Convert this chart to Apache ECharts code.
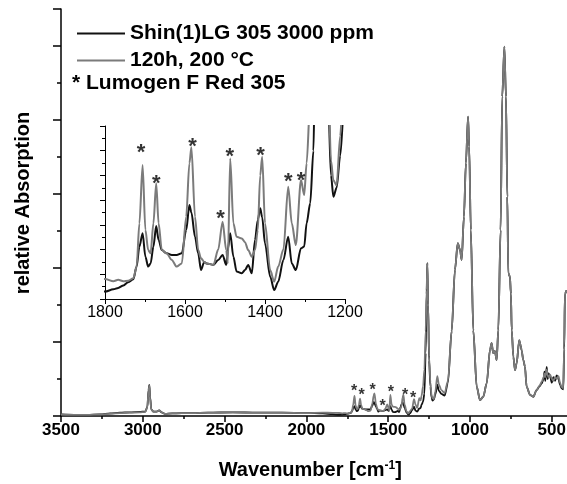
<!DOCTYPE html>
<html><head><meta charset="utf-8">
<script src="https://cdn.jsdelivr.net/npm/echarts@6/dist/echarts.min.js"></script>
<style>html,body{margin:0;padding:0;background:#fff}#c{width:567px;height:484px}</style>
</head><body><div id="c"></div>
<script>
// ---- data ----
const wavenumber = [3500,3420,3340,3260,3200,3140,3080,3020,2985,2972,2965,2960,2955,2948,2935,2915,2900,2885,2865,2820,2700,2600,2450,2300,2150,2000,1900,1840,
1800,1779,1767,1754,1742,1729,1721,1714,1706,1699,1692,1686,1679,1672,1666,1658,1646,1633,1621,1608,1597,1589,1584,1575,1567,1560,1552,1546,1529,1517,1506,1497,1493,1487,1479,1471,1458,1450,1442,1433,1425,1418,1412,1407,1400,1387,1377,1367,1354,1342,1333,1323,1310,1302,1296,1287,1279,1271,1265,1261,1256,1250,1242,1235,1229,1221,1212,1200,1190,1175,1155,1135,1112,1092,1075,1061,1051,1037,1025,1012,1005,995,980,959,939,919,898,878,868,858,848,837,827,813,803,790,780,772,766,756,750,745,735,725,715,699,690,685,674,664,654,633,613,593,575,562,550,545,540,531,525,520,510,500,490,480,470,459,450,440,430,424,420,410];
const absOriginal = [0.04,0.03,0.03,0.04,0.07,0.09,0.10,0.11,0.12,0.25,0.70,0.84,0.50,0.18,0.12,0.12,0.15,0.10,0.06,0.07,0.08,0.09,0.10,0.09,0.09,0.08,0.07,0.05,
0.030,0.039,0.045,0.055,0.068,0.080,0.131,0.212,0.266,0.171,0.131,0.144,0.212,0.295,0.239,0.198,0.185,0.178,0.178,0.185,0.279,0.380,0.350,0.252,0.185,0.117,0.150,0.144,0.138,0.158,0.178,0.138,0.200,0.266,0.171,0.111,0.104,0.117,0.138,0.104,0.239,0.320,0.367,0.330,0.225,0.090,0.036,0.070,0.158,0.252,0.144,0.117,0.205,0.212,0.306,0.387,0.60,1.70,3.30,4.13,3.00,1.50,0.80,0.50,0.414,0.45,0.58,0.85,0.68,0.60,0.55,0.90,2.30,3.95,4.67,4.49,4.22,5.39,6.84,8.09,7.28,5.03,2.32,0.79,0.43,0.52,0.88,1.78,1.97,1.70,1.75,1.51,2.32,5.03,8.63,9.98,8.63,5.93,3.86,3.77,3.30,2.32,1.60,1.24,1.42,2.05,1.90,1.78,1.51,1.33,0.79,0.57,0.52,0.70,0.80,0.88,1.00,1.20,0.95,1.33,1.00,1.15,1.06,0.90,1.05,0.95,1.10,1.00,0.85,0.75,0.72,1.80,3.30,3.40];
const absAged = [0.04,0.03,0.03,0.04,0.06,0.08,0.09,0.10,0.11,0.24,0.68,0.82,0.48,0.17,0.12,0.12,0.15,0.10,0.06,0.07,0.08,0.09,0.10,0.09,0.09,0.08,0.09,0.085,
0.081,0.072,0.078,0.072,0.074,0.084,0.131,0.306,0.542,0.279,0.198,0.185,0.306,0.468,0.306,0.198,0.185,0.158,0.131,0.144,0.333,0.549,0.614,0.333,0.198,0.165,0.150,0.144,0.138,0.200,0.313,0.198,0.144,0.569,0.306,0.252,0.245,0.230,0.198,0.171,0.198,0.279,0.500,0.576,0.306,0.117,0.070,0.131,0.200,0.454,0.306,0.218,0.481,0.421,0.549,0.80,1.25,2.30,3.40,4.13,3.00,1.60,0.90,0.56,0.48,0.46,0.66,1.08,0.85,0.70,0.62,0.95,2.30,3.95,4.67,4.49,4.22,5.39,6.84,8.09,7.28,5.03,2.32,0.79,0.43,0.52,0.88,1.78,1.97,1.70,1.75,1.51,2.32,5.03,8.63,9.98,8.63,5.93,3.86,3.77,3.30,2.32,1.60,1.24,1.42,2.05,1.90,1.78,1.51,1.33,0.79,0.57,0.52,0.70,0.82,0.92,1.05,1.15,1.05,1.25,1.10,1.05,1.12,1.00,0.95,1.05,1.00,1.08,0.90,0.78,0.75,1.90,3.30,3.40];
const seriesNames = ['Shin(1)LG 305 3000 ppm', '120h, 200 °C'];
const markerNote = '* Lumogen F Red 305';
const mainStarWavenumber = [1709,1662,1595,1534,1483,1397,1347];
const mainStarLevel = [0.78,0.66,0.79,0.36,0.75,0.66,0.59];
const insetStarWavenumber = [1710,1672,1581,1511,1488,1411,1342,1310];
const insetStarLevel = [0.616,0.488,0.64,0.347,0.60,0.603,0.499,0.503];
const xTitle = 'Wavenumber [cm{sup|-1}]';
const yTitle = 'relative Absorption';

// ---- chart ----
const FONT = '"Liberation Sans", Arial, Helvetica, sans-serif';
const pairs = (xs, ys) => xs.map((x, i) => [x, ys[i]]);
const chart = echarts.init(document.getElementById('c'), null, {renderer: 'canvas'});
const blk = '#111111', gry = '#7b7b7b';
const axisCommon = (w) => ({
  axisLine: {show: true, onZero: false, lineStyle: {color: '#000', width: w}},
  splitLine: {show: false}, minorSplitLine: {show: false}
});
const starLabel = (size) => ({show: true, formatter: '*', position: 'inside', offset: [0, Math.round(size * 0.28)],
  fontSize: size, fontWeight: 'bold', color: '#000', fontFamily: FONT});
const lineSeries = (i, xi, yi, data, color, width, z) => ({
  name: seriesNames[i], type: 'line', xAxisIndex: xi, yAxisIndex: yi, data: data,
  showSymbol: false, symbol: 'none', silent: true, z: z, clip: true, smooth: 0.3, smoothMonotone: 'x',
  color: color, lineStyle: {color: color, width: width}
});

chart.setOption({
  animation: false,
  textStyle: {fontFamily: FONT},
  grid: [
    {left: 61, top: 9, width: 572.6, height: 407, containLabel: false, outerBoundsMode: 'none'},
    {left: 105, top: 126, width: 240, height: 173, containLabel: false, outerBoundsMode: 'none'}
  ],
  legend: {
    data: seriesNames, left: 72, top: 18, orient: 'vertical', icon: 'rect',
    itemWidth: 48, itemHeight: 2, itemGap: 6, selectedMode: false,
    textStyle: {fontSize: 21, fontWeight: 'bold', color: '#000', lineHeight: 21, fontFamily: FONT}
  },
  graphic: [{type: 'text', left: 72, top: 73,
    style: {text: markerNote, font: 'bold 21px ' + FONT, fill: '#000'}}],
  xAxis: [
    Object.assign({gridIndex: 0, type: 'value', min: 0, max: 3500, interval: 500, inverse: true,
      axisTick: {show: true, length: 6, lineStyle: {color: '#000', width: 1.5}},
      minorTick: {show: true, splitNumber: 2, length: 3, lineStyle: {color: '#000', width: 1.5}},
      axisLabel: {fontSize: 17, fontWeight: 'bold', color: '#000', margin: 6, fontFamily: FONT,
        formatter: v => (v === 0 ? '' : String(v))},
      name: xTitle, nameLocation: 'middle', nameGap: 44,
      nameTextStyle: {fontSize: 20, fontWeight: 'bold', color: '#000', fontFamily: FONT, padding: [0, 74, 0, 0],
        rich: {sup: {fontSize: 12, fontWeight: 'bold', color: '#000', fontFamily: FONT, verticalAlign: 'top', padding: [0, 0, 6, 0]}}}
    }, axisCommon(1.5)),
    Object.assign({gridIndex: 1, type: 'value', min: 1200, max: 1800, interval: 200, inverse: true,
      axisTick: {show: true, length: 5, lineStyle: {color: '#000', width: 1}},
      minorTick: {show: true, splitNumber: 2, length: 3, lineStyle: {color: '#000', width: 1}},
      axisLabel: {fontSize: 16, color: '#000', margin: 6, fontFamily: FONT, formatter: v => String(v)}
    }, axisCommon(1))
  ],
  yAxis: [
    Object.assign({gridIndex: 0, type: 'value', min: 0, max: 11, interval: 1, position: 'left',
      axisTick: {show: true, length: 4, lineStyle: {color: '#000', width: 1.5}},
      axisLabel: {show: false},
      name: yTitle, nameLocation: 'middle', nameGap: 28,
      nameTextStyle: {fontSize: 20, fontWeight: 'bold', color: '#000', fontFamily: FONT, padding: [0, 0, 0, 19]}
    }, axisCommon(1.5)),
    {gridIndex: 0, type: 'value', min: 0, max: 11, interval: 2, position: 'left', offset: 0,
      axisLine: {show: false, onZero: false}, axisTick: {show: true, length: 8, lineStyle: {color: '#000', width: 1.5}},
      axisLabel: {show: false}, splitLine: {show: false}},
    Object.assign({gridIndex: 1, type: 'value', min: 0, max: 0.7, interval: 0.1,
      axisTick: {show: true, length: 5, lineStyle: {color: '#000', width: 1}},
      minorTick: {show: true, splitNumber: 2, length: 3, lineStyle: {color: '#000', width: 1}},
      axisLabel: {show: false}
    }, axisCommon(1))
  ],
  series: [
    lineSeries(0, 0, 0, pairs(wavenumber, absOriginal), blk, 1.8, 2),
    lineSeries(1, 0, 0, pairs(wavenumber, absAged), gry, 1.8, 3),
    lineSeries(0, 1, 2, pairs(wavenumber, absOriginal), blk, 2, 2),
    lineSeries(1, 1, 2, pairs(wavenumber, absAged), gry, 2, 3),
    {name: 'mainStars', type: 'scatter', xAxisIndex: 0, yAxisIndex: 0, silent: true, z: 5,
      data: pairs(mainStarWavenumber, mainStarLevel), symbol: 'circle', symbolSize: 1,
      itemStyle: {color: 'transparent'}, label: starLabel(16)},
    {name: 'insetStars', type: 'scatter', xAxisIndex: 1, yAxisIndex: 2, silent: true, z: 5,
      data: pairs(insetStarWavenumber, insetStarLevel), symbol: 'circle', symbolSize: 1,
      itemStyle: {color: 'transparent'}, label: starLabel(22)}
  ]
});
</script></body></html>
